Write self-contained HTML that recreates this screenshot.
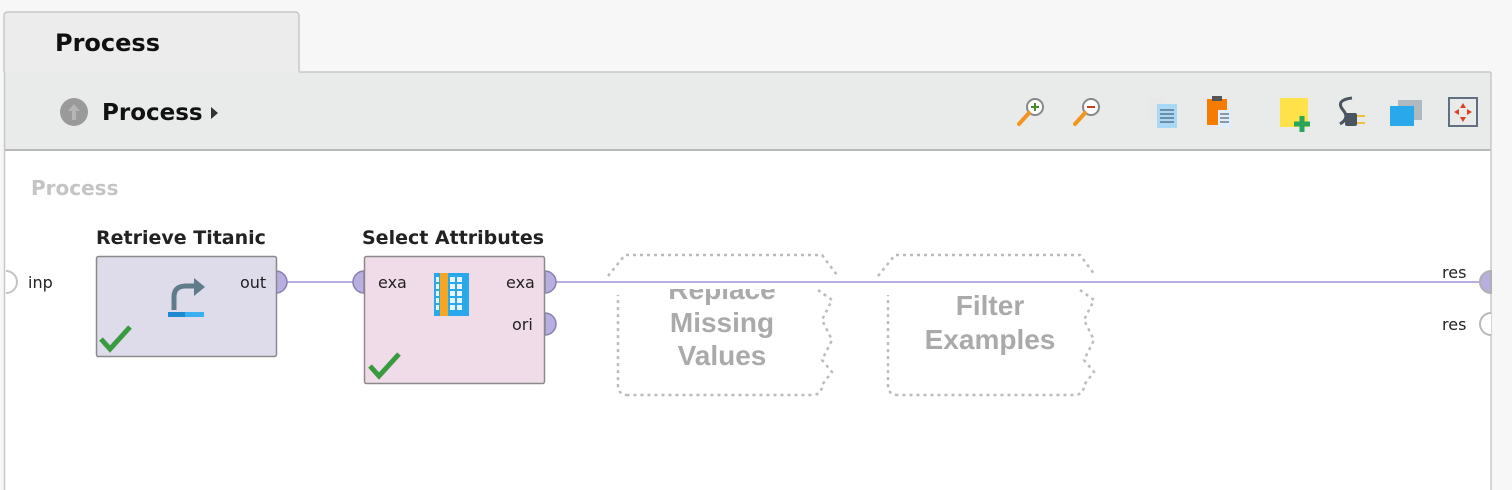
<!DOCTYPE html>
<html><head><meta charset="utf-8"><style>
html,body{margin:0;padding:0;width:1512px;height:490px;overflow:hidden;background:#f7f7f7;font-family:"DejaVu Sans","Liberation Sans",sans-serif}
</style></head><body>
<svg width="1512" height="490" xmlns="http://www.w3.org/2000/svg" style="position:absolute;left:0;top:0">
<defs><clipPath id="c1"><rect x="600" y="289" width="260" height="40"/></clipPath></defs>
<rect x="0" y="0" width="1512" height="490" fill="#f7f7f7"/>
<path d="M4,72 V16 Q4,12 8,12 H295 Q299,12 299,16 V72" fill="#ececec" stroke="#c8c8c8" stroke-width="1.5"/>
<text x="55" y="51" font-size="24" font-weight="bold" fill="#111">Process</text>
<rect x="4" y="72" width="1487" height="78" fill="#e9eaea"/>
<line x1="299" y1="72" x2="1491" y2="72" stroke="#c8c8c8" stroke-width="1.5"/>
<rect x="4" y="150" width="1487" height="345" fill="#fff"/>
<line x1="4" y1="150" x2="1491" y2="150" stroke="#b8b8b8" stroke-width="2"/>
<line x1="4.5" y1="72" x2="4.5" y2="490" stroke="#c8c8c8" stroke-width="1.5"/>
<line x1="1491" y1="72" x2="1491" y2="490" stroke="#c8c8c8" stroke-width="1.5"/>
<circle cx="74" cy="112" r="14" fill="#9a9a9a"/>
<path d="M74,104 L68,111 H72 V120 H76 V111 H80 Z" fill="#b5b5b5"/>
<text x="102" y="120" font-size="23" font-weight="bold" fill="#111">Process</text>
<path d="M211,107 L218,113 L211,119 Z" fill="#333"/>
<g>
<circle cx="1035" cy="107" r="8" fill="#fff" stroke="#888" stroke-width="2"/><path d="M1031,107h8M1035,103v8" stroke="#4a8a2a" stroke-width="2"/><line x1="1029" y1="113" x2="1019" y2="124" stroke="#f0961e" stroke-width="4" stroke-linecap="round"/>
<circle cx="1091" cy="107" r="8" fill="#fff" stroke="#888" stroke-width="2"/><path d="M1087,107h8" stroke="#c04020" stroke-width="2"/><line x1="1085" y1="113" x2="1075" y2="124" stroke="#f0961e" stroke-width="4" stroke-linecap="round"/>
<rect x="1148" y="98" width="16" height="22" fill="#e8e8e8"/><rect x="1157" y="104" width="20" height="24" fill="#a8d8f5"/><path d="M1160,110h14M1160,114h14M1160,118h14M1160,122h14" stroke="#345" stroke-width="1"/>
<rect x="1207" y="99" width="20" height="26" fill="#f57c00"/><rect x="1212" y="96" width="10" height="5" fill="#555"/><rect x="1218" y="110" width="13" height="18" fill="#dfeefa"/><path d="M1220,114h9M1220,118h9M1220,122h9" stroke="#345"/>
<path d="M1280,98 H1308 V127 H1280 Z" fill="#ffe24a"/><path d="M1294,124h16M1302,116v16" stroke="#2aa55a" stroke-width="5"/>
<path d="M1352,98 Q1335,100 1343,110 Q1350,118 1340,124" stroke="#4a5560" stroke-width="3" fill="none"/><rect x="1345" y="113" width="12" height="13" rx="2" fill="#4a5560"/><path d="M1357,116h8M1357,123h8" stroke="#f0c040" stroke-width="2"/>
<rect x="1398" y="100" width="24" height="20" fill="#b0b8c0"/><rect x="1390" y="106" width="24" height="20" fill="#2aa8ec"/>
<rect x="1449" y="98" width="28" height="28" fill="none" stroke="#607080" stroke-width="2"/><path d="M1463,103l-3,5h6zM1463,122l-3,-5h6zM1454,112l5,-3v6zM1472,112l-5,-3v6z" fill="#e04020"/>
</g>
<text x="31" y="195" font-size="20" font-weight="bold" fill="#c4c4c4">Process</text>
<line x1="286" y1="282" x2="356" y2="282" stroke="#b8aee0" stroke-width="2"/>
<line x1="555" y1="282" x2="1480" y2="282" stroke="#b8aee0" stroke-width="2"/>
<path d="M6,271 A11,11 0 0 1 6,293" fill="#fff" stroke="#c4c4c4" stroke-width="2"/>
<text x="28" y="288" font-size="16" fill="#222">inp</text>
<text x="96" y="244" font-size="19" font-weight="bold" fill="#222">Retrieve Titanic</text>
<path d="M276,271 A11,11 0 0 1 276,293 Z" fill="#b8aee0" stroke="#8a80b0" stroke-width="1.5"/>
<rect x="96.5" y="256.5" width="180" height="100" rx="2" fill="#dedbeb" stroke="#8a8a8a" stroke-width="1.5"/>
<text x="240" y="288" font-size="16" fill="#222">out</text>
<path d="M174,310 V297 Q174,286 186,286 H196" stroke="#607c8a" stroke-width="5" fill="none"/><path d="M194,278 L205,287 L194,296 Z" fill="#607c8a"/>
<rect x="168" y="312" width="17" height="5" fill="#1e88d0"/><rect x="185" y="312" width="19" height="5" fill="#3ab0f0"/>
<path d="M101,339 L110,349 L130,327" stroke="#3a9a40" stroke-width="5" fill="none"/>
<text x="362" y="244" font-size="19" font-weight="bold" fill="#222">Select Attributes</text>
<path d="M364,271 A11,11 0 0 0 364,293 Z" fill="#b8aee0" stroke="#8a80b0" stroke-width="1.5"/>
<path d="M545,271 A11,11 0 0 1 545,293 Z" fill="#b8aee0" stroke="#8a80b0" stroke-width="1.5"/>
<path d="M545,313 A11,11 0 0 1 545,335 Z" fill="#b8aee0" stroke="#8a80b0" stroke-width="1.5"/>
<rect x="364.5" y="256.5" width="180" height="127" rx="2" fill="#f0dce8" stroke="#8a8a8a" stroke-width="1.5"/>
<text x="378" y="288" font-size="16" fill="#222">exa</text>
<text x="506" y="288" font-size="16" fill="#222">exa</text>
<text x="512" y="330" font-size="16" fill="#222">ori</text>
<rect x="434" y="273" width="35" height="43" fill="#2aa8ec"/>
<rect x="440" y="273" width="8" height="43" fill="#f5a623"/>
<g fill="#e8f6fd"><rect x="450" y="277" width="5" height="5"/><rect x="457" y="277" width="5" height="5"/><rect x="450" y="284" width="5" height="5"/><rect x="457" y="284" width="5" height="5"/><rect x="450" y="291" width="5" height="5"/><rect x="457" y="291" width="5" height="5"/><rect x="450" y="298" width="5" height="5"/><rect x="457" y="298" width="5" height="5"/><rect x="450" y="305" width="5" height="5"/><rect x="457" y="305" width="5" height="5"/><rect x="436" y="277" width="3" height="5"/><rect x="436" y="284" width="3" height="5"/><rect x="436" y="291" width="3" height="5"/><rect x="436" y="298" width="3" height="5"/><rect x="436" y="305" width="3" height="5"/></g>
<path d="M370,366 L379,376 L399,354" stroke="#3a9a40" stroke-width="5" fill="none"/>
<g fill="none" stroke="#bbb" stroke-width="2.5" stroke-dasharray="3,4">
<path d="M628,395 Q618,395 618,385 V295 M608,276 L625,255 H822 L837,275 M818,290 L832,300 L822,320 L832,340 L822,360 L832,372 L822,385 Q822,395 812,395 H628"/>
<path d="M898,395 Q888,395 888,385 V295 M878,276 L895,255 H1080 L1095,275 M1080,290 L1094,300 L1084,320 L1094,340 L1084,360 L1094,372 L1084,385 Q1084,395 1074,395 H898"/>
</g>
<g font-family="Liberation Sans Narrow,Liberation Sans,sans-serif" font-size="28" font-weight="bold" fill="#aaa" text-anchor="middle">
<text x="722" y="299" clip-path="url(#c1)">Replace</text>
<text x="722" y="332">Missing</text>
<text x="722" y="365">Values</text>
<text x="990" y="315">Filter</text>
<text x="990" y="349">Examples</text>
</g>
<path d="M1491,271 A11,11 0 0 0 1491,293 Z" fill="#b8aee0" stroke="#b0b0b0" stroke-width="2"/>
<path d="M1491,313 A11,11 0 0 0 1491,335" fill="#fff" stroke="#b8b8b8" stroke-width="2"/>
<text x="1442" y="278" font-size="16" fill="#222">res</text>
<text x="1442" y="330" font-size="16" fill="#222">res</text>
<rect x="1492" y="72" width="20" height="418" fill="#f7f7f7"/>
</svg>
</body></html>
